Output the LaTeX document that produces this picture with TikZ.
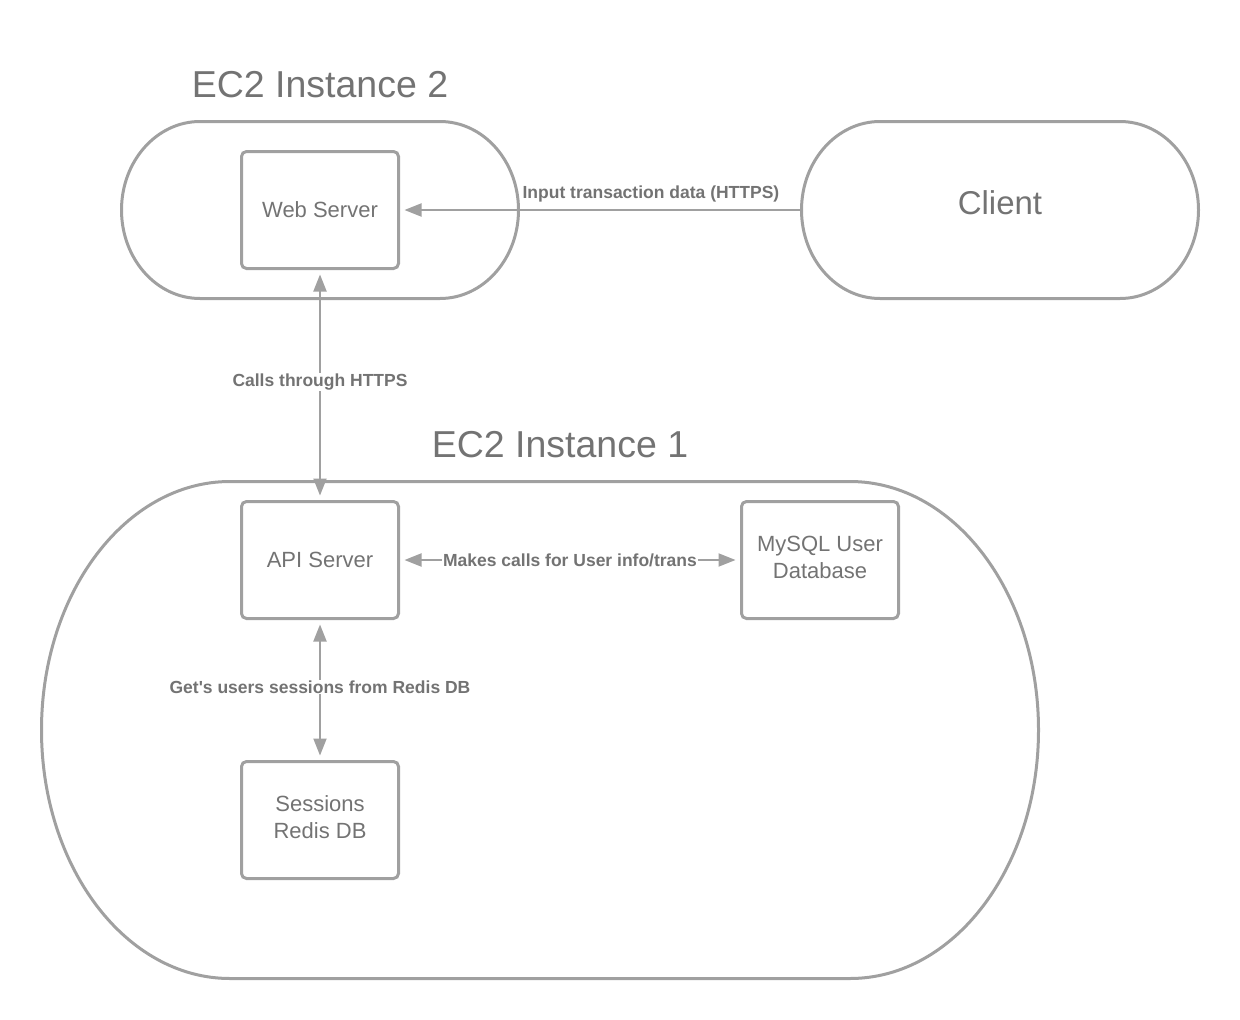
\documentclass[tikz,border=0pt]{standalone}
\usepackage{fontspec}
\setmainfont{Liberation Sans}
\usetikzlibrary{arrows.meta}

\definecolor{linegray}{RGB}{160,160,160}
\definecolor{textgray}{RGB}{115,115,115}

\tikzset{
    container/.style={draw=linegray, line width=3pt},
    box/.style={draw=linegray, line width=3pt, rounded corners=5pt, minimum width=157pt, minimum height=117pt, inner sep=0pt, align=center, text=textgray, font=\fontsize{22}{27}\selectfont},
    title/.style={text=textgray, font=\fontsize{37.5}{45}\selectfont},
    link/.style={draw=linegray, line width=2pt, -{Triangle[length=17pt,width=13pt]}, shorten >=4.5pt},
    bilink/.style={link, {Triangle[length=17pt,width=13pt]}-{Triangle[length=17pt,width=13pt]}, shorten <=4.5pt},
    lbl/.style={text=textgray, fill=white, inner sep=1pt, font=\bfseries\fontsize{17.5}{20}\selectfont}
}

\begin{document}
\begin{tikzpicture}[x=1pt,y=-1pt]
    \useasboundingbox (0,0) rectangle (1240,1020);

    %Shape: Rounded Rectangle [EC2 Instance 2]
    \draw [container] (200,121.5) -- (440,121.5) arc[start angle=-90, end angle=90, x radius=78.5, y radius=88.5] -- (200,298.5) arc[start angle=90, end angle=270, x radius=78.5, y radius=88.5] -- cycle ;
    %Shape: Rounded Rectangle [Client]
    \draw [container] (880,121.5) -- (1120,121.5) arc[start angle=-90, end angle=90, x radius=78.5, y radius=88.5] -- (880,298.5) arc[start angle=90, end angle=270, x radius=78.5, y radius=88.5] -- cycle ;
    %Shape: Rounded Rectangle [EC2 Instance 1]
    \draw [container] (230,481.5) -- (850,481.5) arc[start angle=-90, end angle=90, x radius=188.5, y radius=248.5] -- (230,978.5) arc[start angle=90, end angle=270, x radius=188.5, y radius=248.5] -- cycle ;

    % Text Node
    \node [title] (title2) at (320,85) {EC2 Instance 2};
    % Text Node
    \node [title] (title1) at (560,445) {EC2 Instance 1};
    % Text Node
    \node [text=textgray, font=\fontsize{33}{40}\selectfont] (client) at (1000,203) {Client};
    \coordinate (clientin) at (801.5,210);

    %Shape: Rectangle
    \node [box] (web) at (320,210) {Web Server};
    %Shape: Rectangle
    \node [box] (api) at (320,560) {API Server};
    %Shape: Rectangle
    \node [box] (mysql) at (820,560) {MySQL User\\Database\rule[-6pt]{0pt}{0pt}};
    %Shape: Rectangle
    \node [box] (redis) at (320,820) {Sessions\\Redis DB\rule[-6pt]{0pt}{0pt}};

    %Straight Lines
    \draw [link] (clientin) -- node [lbl, fill=none, pos=0.375, above=6pt] (lblinput) {Input transaction data (HTTPS)} (web) ;
    %Straight Lines
    \draw [bilink] (web) -- node [lbl, pos=0.487] (lblcalls) {Calls through HTTPS} (api) ;
    %Straight Lines
    \draw [bilink] (api) -- node [lbl, pos=0.5] (lblmakes) {Makes calls for User info/trans} (mysql) ;
    %Straight Lines
    \draw [bilink] (api) -- node [lbl, pos=0.479] (lblsessions) {Get\textquotesingle s users sessions from Redis DB} (redis) ;

\end{tikzpicture}
\end{document}
